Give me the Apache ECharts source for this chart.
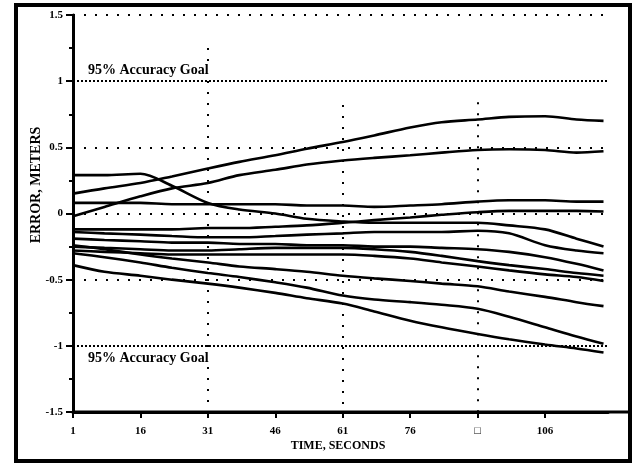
<!DOCTYPE html>
<html>
<head>
<meta charset="utf-8">
<script src="https://cdn.jsdelivr.net/npm/echarts@6/dist/echarts.min.js"></script>
<style>
html,body{margin:0;padding:0;background:#fff;}
#c{width:638px;height:466px;}
</style>
</head>
<body>
<div id="c"></div>
<script>
// ---- data ----
var times = [1, 8, 16, 23, 31, 38, 46, 53, 61, 68, 76, 83, 91, 98, 106, 113, 119];
var xTickLabels = ['1', '16', '31', '46', '61', '76', '\u25A1', '106'];
var yTickLabels = ['-1.5', '-1', '-0.5', '0', '0.5', '1', '1.5'];
var goalLevels = [1, -1];
var sparseGridY = [1.5, 0.5, 0, -0.5];
var gridX = [31, 61, 91];
var gridXTop = [1.25, 0.82, 0.84];

var errA = [0.15, 0.19, 0.23, 0.28, 0.34, 0.39, 0.44, 0.49, 0.54, 0.59, 0.65, 0.69, 0.71, 0.73, 0.735, 0.71, 0.70];
var errB = [-0.02, 0.05, 0.13, 0.19, 0.23, 0.29, 0.33, 0.37, 0.40, 0.42, 0.44, 0.46, 0.48, 0.485, 0.48, 0.46, 0.47];
var errC = [0.29, 0.29, 0.30, 0.21, 0.08, 0.03, 0.00, -0.04, -0.06, -0.07, -0.07, -0.07, -0.07, -0.09, -0.12, -0.19, -0.25];
var errF = [0.08, 0.08, 0.08, 0.07, 0.07, 0.07, 0.07, 0.06, 0.06, 0.05, 0.06, 0.07, 0.09, 0.10, 0.10, 0.09, 0.09];
var errZ = [-0.12, -0.12, -0.12, -0.12, -0.11, -0.11, -0.10, -0.09, -0.07, -0.05, -0.03, -0.01, 0.01, 0.02, 0.02, 0.02, 0.015];
var errG1 = [-0.14, -0.15, -0.16, -0.17, -0.18, -0.18, -0.17, -0.16, -0.15, -0.14, -0.14, -0.14, -0.13, -0.15, -0.24, -0.28, -0.30];
var errG2 = [-0.19, -0.20, -0.21, -0.22, -0.22, -0.23, -0.23, -0.24, -0.24, -0.25, -0.25, -0.26, -0.27, -0.29, -0.33, -0.38, -0.43];
var errG3 = [-0.25, -0.26, -0.27, -0.28, -0.28, -0.27, -0.26, -0.26, -0.26, -0.27, -0.29, -0.32, -0.36, -0.39, -0.42, -0.45, -0.47];
var errG4 = [-0.28, -0.29, -0.30, -0.31, -0.31, -0.31, -0.31, -0.31, -0.31, -0.32, -0.34, -0.37, -0.40, -0.43, -0.46, -0.48, -0.51];
var errD3 = [-0.24, -0.27, -0.31, -0.34, -0.37, -0.40, -0.42, -0.44, -0.47, -0.49, -0.51, -0.53, -0.55, -0.59, -0.63, -0.67, -0.70];
var errD2 = [-0.30, -0.33, -0.37, -0.41, -0.45, -0.48, -0.52, -0.56, -0.62, -0.65, -0.67, -0.69, -0.72, -0.78, -0.86, -0.93, -0.985];
var errD1 = [-0.39, -0.44, -0.47, -0.50, -0.53, -0.56, -0.60, -0.64, -0.68, -0.74, -0.81, -0.86, -0.91, -0.95, -0.99, -1.02, -1.05];

var curves = [errA, errB, errC, errF, errZ, errG1, errG2, errG3, errG4, errD3, errD2, errD1];

// ---- chart ----
var chart = echarts.init(document.getElementById('c'), null, {renderer: 'canvas'});
var serif = '"Liberation Serif", "DejaVu Serif", serif';

function pairs(vals) {
  return vals.map(function (v, i) { return [times[i], v]; });
}

var series = curves.map(function (c) {
  return {
    type: 'line', data: pairs(c), symbol: 'none', smooth: 0.3,
    lineStyle: {color: '#000', width: 2.6}, silent: true, z: 5
  };
});

// grid lines (dotted)
var gridLines = [];
sparseGridY.forEach(function (y) {
  gridLines.push({yAxis: y, lineStyle: {type: [2, 9], width: 2, color: '#000'}});
});
goalLevels.forEach(function (y) {
  gridLines.push({yAxis: y, lineStyle: {type: [2, 2], width: 2, color: '#000'}});
});
gridX.forEach(function (x, i) {
  gridLines.push([{coord: [x, gridXTop[i]], lineStyle: {type: [2, 9], width: 2, color: '#000'}}, {coord: [x, -1.5]}]);
});
series.push({
  type: 'line', data: [], silent: true, z: 2,
  markLine: {symbol: 'none', silent: true, label: {show: false}, animation: false, data: gridLines}
});

var goalTextStyle = {text: '95% Accuracy Goal', fill: '#000', font: 'bold 14px ' + serif,
  textVerticalAlign: 'middle', backgroundColor: '#fff', padding: [0, 1]};

chart.setOption({
  animation: false,
  backgroundColor: '#fff',
  grid: {left: 73, top: 15, right: 30, bottom: 54},
  xAxis: {
    type: 'value', min: 1, max: 120, interval: 15,
    axisLine: {onZero: false, lineStyle: {color: '#000', width: 3}},
    axisTick: {show: true, length: 6, inside: false, lineStyle: {color: '#000', width: 2}},
    splitLine: {show: false},
    axisLabel: {
      color: '#000', fontFamily: serif, fontWeight: 'bold', fontSize: 11, margin: 14,
      showMaxLabel: false,
      formatter: function (v) {
        var k = Math.round((v - 1) / 15);
        return xTickLabels[k] !== undefined ? xTickLabels[k] : '';
      }
    }
  },
  yAxis: {
    type: 'value', min: -1.5, max: 1.5, interval: 0.5,
    axisLine: {onZero: false, lineStyle: {color: '#000', width: 3}},
    axisTick: {show: true, length: 7, lineStyle: {color: '#000', width: 2}},
    minorTick: {show: true, splitNumber: 2, length: 4, lineStyle: {color: '#000', width: 2}},
    splitLine: {show: false},
    axisLabel: {
      color: '#000', fontFamily: serif, fontWeight: 'bold', fontSize: 11, margin: 10,
      formatter: function (v) {
        var k = Math.round((v + 1.5) / 0.5);
        return yTickLabels[k];
      }
    }
  },
  series: series,
  graphic: [
    {type: 'rect', shape: {x: 16, y: 5, width: 614, height: 456},
     style: {fill: 'none', stroke: '#000', lineWidth: 4}, z: 10},
    {type: 'line', shape: {x1: 73, y1: 412, x2: 630, y2: 412},
     style: {stroke: '#000', lineWidth: 3}, z: 9},
    {type: 'text', x: 87, y: 70, style: goalTextStyle, z: 10},
    {type: 'text', x: 87, y: 358, style: goalTextStyle, z: 10},
    {type: 'text', x: 338, y: 446, style: {text: 'TIME, SECONDS', fill: '#000',
     font: 'bold 12px ' + serif, textAlign: 'center', textVerticalAlign: 'middle'}, z: 10},
    {type: 'text', x: 36, y: 185, rotation: Math.PI / 2, style: {text: 'ERROR, METERS', fill: '#000',
     font: 'bold 14px ' + serif, textAlign: 'center', textVerticalAlign: 'middle'}, z: 10}
  ]
});
</script>
</body>
</html>
